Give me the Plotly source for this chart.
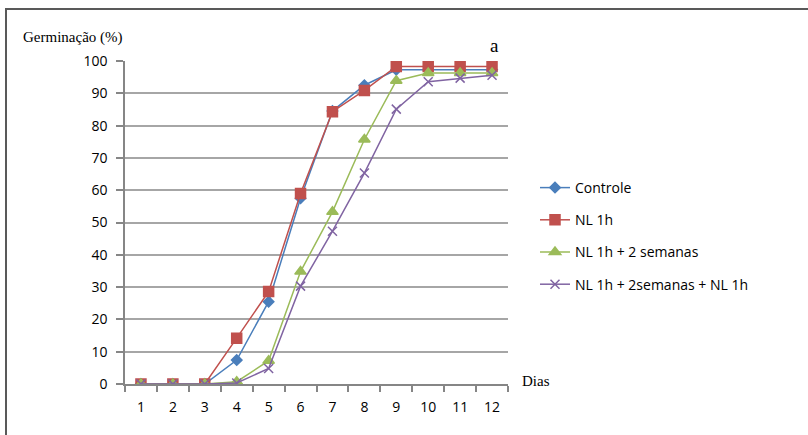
import plotly.graph_objects as go

dias = ["1", "2", "3", "4", "5", "6", "7", "8", "9", "10", "11", "12"]
controle = [0, 0, 0, 7.4, 25.5, 57.5, 84.5, 92.5, 97.3, 97.3, 97.3, 97.3]
nl_1h = [0, 0, 0, 14.2, 28.6, 59, 84.3, 90.9, 98.3, 98.3, 98.3, 98.3]
nl_1h_2sem = [0, 0, 0, 0.7, 7.2, 34.8, 53.3, 75.7, 93.9, 96.3, 96.3, 96.3]
nl_1h_2sem_nl = [0, 0, 0, 0.3, 4.8, 30.3, 47.3, 65.3, 85.1, 93.6, 94.7, 95.6]

series = [
    ("Controle", controle, "#4A7EBB", "diamond", 8),
    ("NL 1h", nl_1h, "#C0504D", "square", 10),
    ("NL 1h + 2 semanas", nl_1h_2sem, "#9BBB59", "triangle-up", 10),
    ("NL 1h + 2semanas + NL 1h", nl_1h_2sem_nl, "#8064A2", "x-thin-open", 9),
]

fig = go.Figure()
for i, (name, vals, color, sym, size) in enumerate(series):
    fig.add_trace(go.Scatter(
        x=dias, y=vals, name=name, mode="lines+markers",
        legendgroup=f"g{i}",
        line=dict(color=color, width=1.5),
        marker=dict(symbol=sym, size=size, color=color,
                    line=dict(color=color, width=1.5)),
    ))

W, H = 808, 435
L, R, T, B = 125, 300, 61, 51
pw, ph = W - L - R, H - T - B

def px(x):
    return (x - L) / pw

def py(y):
    return (H - B - y) / ph

SANS = "Open Sans"
SERIF = "Liberation Serif"

fig.update_layout(
    width=W, height=H,
    margin=dict(l=L, r=R, t=T, b=B),
    paper_bgcolor="white", plot_bgcolor="white",
    font=dict(family=SANS, size=13, color="#000000"),
    showlegend=True,
    legend=dict(x=px(535), y=py(172), xanchor="left", yanchor="top",
                font=dict(family=SANS, size=14, color="#000000"),
                tracegroupgap=11, bgcolor="rgba(0,0,0,0)"),
    xaxis=dict(type="category", range=[-0.5, 11.5], showgrid=False,
               showline=True, linecolor="#868686", linewidth=1.5,
               ticks="outside", ticklen=6, tickcolor="#868686", tickwidth=1.5,
               tickson="boundaries", fixedrange=True, ticklabelstandoff=9,
               tickfont=dict(family=SANS, size=14)),
    yaxis=dict(range=[0, 100], dtick=10, showgrid=True, gridcolor="#A6A6A6",
               gridwidth=1.5, showline=True, linecolor="#868686", linewidth=1.5,
               ticks="outside", ticklen=7, tickcolor="#868686", tickwidth=1.5,
               zeroline=False, fixedrange=True, ticklabelstandoff=6,
               tickfont=dict(family=SANS, size=14)),
    shapes=[dict(type="rect", xref="paper", yref="paper",
                 x0=px(6), x1=px(830), y0=py(460), y1=py(9),
                 line=dict(color="#595959", width=2), layer="above")],
    annotations=[
        dict(text="Germinação (%)", xref="paper", yref="paper",
             x=px(21), y=py(37), xanchor="left", yanchor="middle",
             showarrow=False, font=dict(family=SERIF, size=15, color="#000")),
        dict(text="a", xref="paper", yref="paper",
             x=px(494), y=py(45), xanchor="center", yanchor="middle",
             showarrow=False, font=dict(family=SERIF, size=19, color="#000")),
        dict(text="Dias", xref="paper", yref="paper",
             x=px(520), y=py(381), xanchor="left", yanchor="middle",
             showarrow=False, font=dict(family=SERIF, size=15, color="#000")),
    ],
)

fig.write_html("out.html", config={"displayModeBar": False})

with open("out.html", "r", encoding="utf-8") as f:
    html = f.read()
html = html.replace("<body>", '<body style="margin:0;padding:0;overflow:hidden">', 1)
with open("out.html", "w", encoding="utf-8") as f:
    f.write(html)
